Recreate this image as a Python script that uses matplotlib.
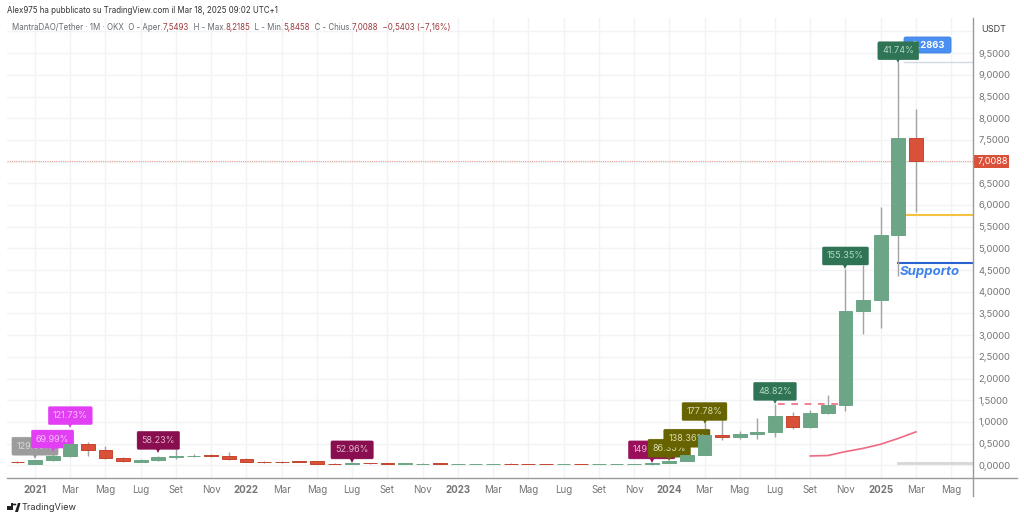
import numpy as np
import matplotlib
matplotlib.use("Agg")
import matplotlib.pyplot as plt
from matplotlib.lines import Line2D
from matplotlib.patches import Circle, FancyBboxPatch, Polygon, Rectangle
from matplotlib.transforms import IdentityTransform, ScaledTranslation

plt.rcParams['font.family'] = ['Inter', 'DejaVu Sans']

# monthly candles, Dec 2020 -> Mar 2025
month_idx = list(range(-1, 51))
opens = [.07, .04, .115, .215, .49, .35, .17, .085, .12, .20, .205, .235, .22, .145, .085, .08, .09, .09, .04, .03, .05, .045,
         .04, .04, .042, .036, .036, .036, .038, .036, .034, .026, .032, .024, .024, .026,
         .02, .05, .09, .245, .70, .645, .72, .775, 1.14, .89, 1.2, 1.39, 3.56, 3.82, 5.31, 7.5493]
highs = [.09, .13, .26, .50, .53, .44, .19, .14, .21, .37, .27, .26, .30, .16, .11, .09, .11, .10, .05, .05, .06, .055,
         .05, .045, .045, .04, .04, .04, .045, .04, .04, .035, .035, .03, .03, .03,
         .06, .10, .26, .97, 1.04, .80, 1.09, 1.42, 1.23, 1.27, 1.62, 4.53, 4.61, 5.96, 9.2863, 8.2185]
lows = [.05, .03, .10, .20, .22, .15, .08, .08, .11, .15, .18, .20, .13, .07, .06, .06, .07, .04, .02, .02, .04, .03,
        .03, .03, .03, .03, .03, .03, .03, .03, .025, .02, .02, .02, .02, .02,
        .015, .045, .09, .24, .58, .60, .61, .65, .83, .85, 1.18, 1.26, 3.03, 3.17, 4.36, 5.8458]
closes = [.065, .115, .215, .485, .36, .17, .09, .12, .20, .215, .22, .225, .14, .085, .08, .075, .08, .04, .03, .05, .045, .04,
          .042, .041, .038, .04, .038, .038, .034, .032, .03, .03, .028, .028, .028, .03,
          .05, .09, .24, .70, .645, .72, .77, 1.14, .89, 1.2, 1.38, 3.56, 3.81, 5.30, 7.54, 7.0088]

# moving average, Sep 2024 -> Mar 2025
ma_idx = [44, 45, 46, 47, 48, 49, 50]
ma_vals = [.215, .225, .315, .39, .485, .62, .77]

# flags drawn in this order (later ones sit on top)
flag_labels = ["129.09%", "69.99%", "121.73%", "58.23%", "52.96%", "149.53%", "86.35%", "138.36%", "177.78%", "48.82%", "155.35%", "41.74%"]
flag_idx = [0, 1, 2, 7, 18, 35, 36, 37, 38, 42, 46, 49]
flag_price = [.146, .31, .85, .28, .06, .06, .10, .33, .945, 1.41, 4.53, 9.26]
flag_colors = ["#9c9c9c", "#e23ff5", "#e23ff5", "#880e4f", "#880e4f", "#990f5c", "#666300", "#666300", "#666300", "#2e7455", "#2e7455", "#2e7455"]
flag_text = ["#d9d9d9", "#f7c4fb", "#f7c4fb", "#dcb4ca", "#dcb4ca", "#e2b8cf", "#dcdcae", "#dcdcae", "#dcdcae", "#b5d8c5", "#b5d8c5", "#b5d8c5"]

tick_idx = list(range(0, 53, 2))
tick_labels = ["2021", "Mar", "Mag", "Lug", "Set", "Nov",
               "2022", "Mar", "Mag", "Lug", "Set", "Nov",
               "2023", "Mar", "Mag", "Lug", "Set", "Nov",
               "2024", "Mar", "Mag", "Lug", "Set", "Nov",
               "2025", "Mar", "Mag"]
price_ticks = [i * 0.5 for i in range(20)]

GREEN = "#6ca686"
GREEN_EDGE = "#6ca686"
RED = "#da5139"
RED_EDGE = "#c4452f"
WICK = "#a3a3a3"
GRID = "#f1f3f5"
AXIS = "#9a9a9a"
LABEL = "#757575"

W, H = 1024, 520
fig = plt.figure(figsize=(W / 100, H / 100), dpi=100)
# plot pane: 7..973 px wide, 18..478 px tall
ax = fig.add_axes([7 / W, 1 - 478 / H, 966 / W, 460 / H])
ax.set_xlim(-1.59, 53.24)
ax.set_ylim(-0.293, 10.31)

for s in ax.spines.values():
    s.set_visible(False)

ax.set_axisbelow(True)
ax.grid(True, color=GRID, lw=1)
ax.axhline(10, color=GRID, lw=1, zorder=0)

ax.set_xticks(tick_idx)
ax.set_xticklabels(tick_labels, fontsize=7, color=LABEL)
for lab in ax.get_xticklabels():
    if lab.get_text().startswith("20"):
        lab.set_fontweight("bold")
ax.tick_params(axis="x", length=0, pad=5)

ax.yaxis.tick_right()
ax.set_yticks(price_ticks)
# 7,0000 sits behind the last price tag
ax.set_yticklabels(["" if p == 7 else f"{p:.4f}".replace(".", ",") for p in price_ticks], fontsize=6.8, color=LABEL)
ax.tick_params(axis="y", length=0, pad=4)

# axis lines run past the pane
fig.add_artist(Line2D([7 / W, 1017 / W], [1 - 478 / H] * 2, color=AXIS, lw=1))
fig.add_artist(Line2D([973 / W, 973 / W], [1 - 18 / H, 1 - 496 / H], color=AXIS, lw=1))

# horizontal drawings
ax.axhline(closes[-1], color="#e3a096", lw=0.8, ls=(0, (1, 1)), zorder=1)
ax.plot([49.3, 53.24], [9.29, 9.29], color="#d3d9de", lw=1, zorder=1)
ax.plot([49.4, 53.24], [5.77, 5.77], color="#f5c242", lw=1.5, zorder=1)
ax.plot([49.0, 53.24], [4.67, 4.67], color="#2a62d0", lw=1.5, zorder=1)
ax.plot([49.0, 53.24], [.06, .06], color="#d6d6d6", lw=2, zorder=1)
ax.plot([42.2, 45.6], [1.41, 1.41], color="#ef6a80", lw=1.2, ls=(0, (4, 4)), zorder=1)
ax.plot(ma_idx, ma_vals, color="#ef6a80", lw=1.2, zorder=2)

ax.text(49.1, 4.45, "Supporto", fontsize=9.5, color="#3c82ea", style="italic", fontweight="bold", va="center", zorder=6)

# blue high label goes under the 41.74% flag, placed in pixels
ax.add_patch(FancyBboxPatch((904, H - 53), 47, 16, boxstyle="round,pad=0,rounding_size=2", transform=IdentityTransform(),
                            fc="#4a90f2", ec="#3b7fe0", lw=0.6, zorder=3, clip_on=False))
ax.text(928, H - 45, "9,2863", transform=IdentityTransform(), fontsize=6.8, color="white", fontweight="bold",
        ha="center", va="center", zorder=3.1)

# flags
for i, (lab, idx, price, col, tcol) in enumerate(zip(flag_labels, flag_idx, flag_price, flag_colors, flag_text)):
    z = 4 + i * 0.01
    ax.plot([idx], [price], marker="v", ms=6, color=col, mew=0, zorder=z, clip_on=False,
            transform=ax.transData + ScaledTranslation(0, 3 / 72, fig.dpi_scale_trans))
    ax.annotate(lab, xy=(idx, price), xytext=(0, 9.2), textcoords="offset points",
                fontsize=6.5, color=tcol, ha="center", va="center", zorder=z,
                bbox=dict(boxstyle="round,pad=0.5,rounding_size=0.15", fc=col, ec=col, lw=0.3))

# candles, above the flags
x = np.array(month_idx)
o = np.array(opens)
c = np.array(closes)
up = c >= o
ax.vlines(x, lows, highs, color=WICK, lw=1, zorder=3.5)
ax.bar(x[up], (c - o)[up], bottom=o[up], width=0.78, color=GREEN, edgecolor=GREEN_EDGE, lw=0.7, zorder=5)
ax.bar(x[~up], (c - o)[~up], bottom=o[~up], width=0.78, color=RED, edgecolor=RED_EDGE, lw=0.7, zorder=5)


def px_text(px, py, s, **kw):
    return fig.text(px / W, 1 - py / H, s, va="center", **kw)


# last price tag and currency on the scale
fig.patches.append(Rectangle((973 / W, 1 - 168 / H), 36 / W, 13 / H, transform=fig.transFigure, fc=RED, ec="none"))
px_text(978, 161.5, "7,0088", fontsize=6.6, color="white")
px_text(981, 29, "USDT", fontsize=6.6, color="#444444")

# header
px_text(7, 10.5, "Alex975 ha pubblicato su TradingView.com il Mar 18, 2025 09:02 UTC+1", fontsize=5.7, color="#333333")

header = [("MantraDAO/Tether · 1M · OKX  O - Aper.", "#666a70"), ("7,5493", "#9c3b3f"),
          ("  H - Max.", "#666a70"), ("8,2185", "#9c3b3f"),
          ("  L - Min.", "#666a70"), ("5,8458", "#9c3b3f"),
          ("  C - Chius.", "#666a70"), ("7,0088", "#9c3b3f"),
          ("  −0,5403 (−7,16%)", "#9c3b3f")]
renderer = fig.canvas.get_renderer()
cur = 12
for s, col in header:
    t = px_text(cur, 28, s.replace(" ", "\u00a0"), fontsize=5.7, color=col)
    cur = t.get_window_extent(renderer).x1

# TradingView mark
fig.patches.append(Rectangle((7 / W, 1 - 510 / H), 6 / W, 7 / H, transform=fig.transFigure, fc="#222222", ec="none"))
fig.patches.append(Rectangle((7 / W, 1 - 506 / H), 3.5 / W, 3 / H, transform=fig.transFigure, fc="white", ec="none"))
fig.patches.append(Circle((14.5 / W, 1 - 504.5 / H), 0.0018, transform=fig.transFigure, fc="#222222", ec="none"))
fig.patches.append(Polygon([(15 / W, 1 - 512 / H), (18 / W, 1 - 503 / H), (20.5 / W, 1 - 503 / H), (18 / W, 1 - 512 / H)],
                           transform=fig.transFigure, fc="#222222", ec="none"))
px_text(22, 508, "TradingView", fontsize=6.6, color="#333333")

fig.savefig("out.png", dpi=100)
